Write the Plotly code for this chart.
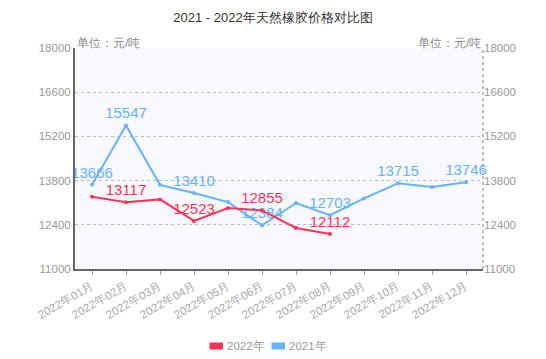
import plotly.graph_objects as go

months = ["2022年01月", "2022年02月", "2022年03月", "2022年04月", "2022年05月", "2022年06月",
          "2022年07月", "2022年08月", "2022年09月", "2022年10月", "2022年11月", "2022年12月"]
prices_2022 = [13290, 13117, 13205, 12523, 12930, 12855, 12300, 12112]
prices_2021 = [13666, 15547, 13665, 13410, 13120, 12384, 13090, 12703, 13235, 13715, 13598, 13746]
labeled_2022 = [1, 3, 5, 7]
labeled_2021 = [0, 1, 3, 5, 7, 9, 11]
y_ticks = [11000, 12400, 13800, 15200, 16600, 18000]
y_tick_text = [str(v) for v in y_ticks]
legend_names = ["2022年", "2021年"]

RED = "#FF3456"
BLUE = "#66B2FF"
FONT = "Liberation Sans, Arial, sans-serif"

text_2022 = [str(v) if i in labeled_2022 else "" for i, v in enumerate(prices_2022)]
text_2021 = [str(v) if i in labeled_2021 else "" for i, v in enumerate(prices_2021)]

fig = go.Figure()
fig.add_trace(go.Scatter(x=months, y=prices_2021, mode="lines+markers+text", text=text_2021,
                         name=legend_names[1],
                         textposition="top center", textfont=dict(color=BLUE, size=15, family=FONT),
                         line=dict(color=BLUE, width=2), marker=dict(size=4, color=BLUE),
                         showlegend=False, cliponaxis=False))
fig.add_trace(go.Scatter(x=months[:len(prices_2022)], y=prices_2022, mode="lines+markers+text", text=text_2022,
                         name=legend_names[0],
                         textposition="top center", textfont=dict(color=RED, size=15, family=FONT),
                         line=dict(color=RED, width=2), marker=dict(size=4, color=RED),
                         showlegend=False, cliponaxis=False))
# right-hand axis duplicate
fig.add_trace(go.Scatter(x=months, y=prices_2021, yaxis="y2", mode="lines", opacity=0,
                         showlegend=False, hoverinfo="skip"))

# the page body adds an 8px offset; geometry below is in figure pixels
OFF = 8
W, H = 546, 359
L, R, T, B = 75 - OFF, 71, 48 - OFF, 98
pw, ph = W - L - R, H - T - B
def px(x):
    return (x - OFF - L) / pw
def py(y):
    return (H - B - (y - OFF)) / ph

legend_shapes = []
legend_annotations = []
for i, (name, color) in enumerate(zip(legend_names, [RED, BLUE])):
    x0 = 209.5 + i * 62
    legend_shapes.append(dict(type="rect", xref="paper", yref="paper",
                              x0=px(x0), x1=px(x0 + 13.5), y0=py(349.5), y1=py(342.5),
                              fillcolor=color, line=dict(width=0)))
    legend_annotations.append(dict(text=name, xref="paper", yref="paper", x=px(x0 + 15), y=py(346),
                                   xanchor="left", yanchor="middle", showarrow=False,
                                   font=dict(size=11.5, color="#999999")))

fig.update_layout(
    width=W, height=H,
    margin=dict(l=L, r=R, t=T, b=B, autoexpand=False),
    paper_bgcolor="white",
    plot_bgcolor="#F8F9FF",
    font=dict(family=FONT, color="#999999", size=11),
    title=dict(text="2021 - 2022年天然橡胶价格对比图", x=(273 - OFF) / W, xanchor="center",
               y=1 - (17 - OFF) / H, yanchor="middle", yref="container",
               font=dict(size=13, color="#333333")),
    xaxis=dict(type="category", categoryorder="array", categoryarray=months,
               range=[-0.5, 11.5], tickangle=-30, showgrid=False, automargin=False,
               showline=True, linecolor="#666666", linewidth=2,
               ticks="outside", ticklen=4, tickcolor="#999999",
               tickfont=dict(size=11.5, color="#AAAAAA")),
    yaxis=dict(range=[11000, 18000], tickvals=y_ticks, ticktext=y_tick_text, showgrid=True,
               gridcolor="#BBBBBB", automargin=False,
               griddash="3px,3px", gridwidth=1, zeroline=False, showline=True, linecolor="#666666",
               linewidth=2, tickfont=dict(size=11.5, color="#999999"), ticks=""),
    yaxis2=dict(range=[11000, 18000], tickvals=y_ticks, ticktext=y_tick_text, overlaying="y",
                side="right", automargin=False,
                showgrid=False, zeroline=False, showline=False,
                tickfont=dict(size=11.5, color="#999999"), ticks=""),
    showlegend=False,
    annotations=[
        dict(text="单位：元/吨", xref="paper", yref="paper", x=0, y=1, xanchor="left", yanchor="middle",
             yshift=5, showarrow=False, font=dict(size=11.5, color="#888888")),
        dict(text="单位：元/吨", xref="paper", yref="paper", x=1, y=1, xanchor="right", yanchor="middle",
             yshift=5, showarrow=False, font=dict(size=11.5, color="#888888")),
    ] + legend_annotations,
    shapes=[
        dict(type="line", xref="paper", yref="paper", x0=1, x1=1, y0=0, y1=1,
             line=dict(color="#AAAAAA", width=1.5, dash="3px,3px")),
    ] + legend_shapes,
)

fig.write_html("out.html")
